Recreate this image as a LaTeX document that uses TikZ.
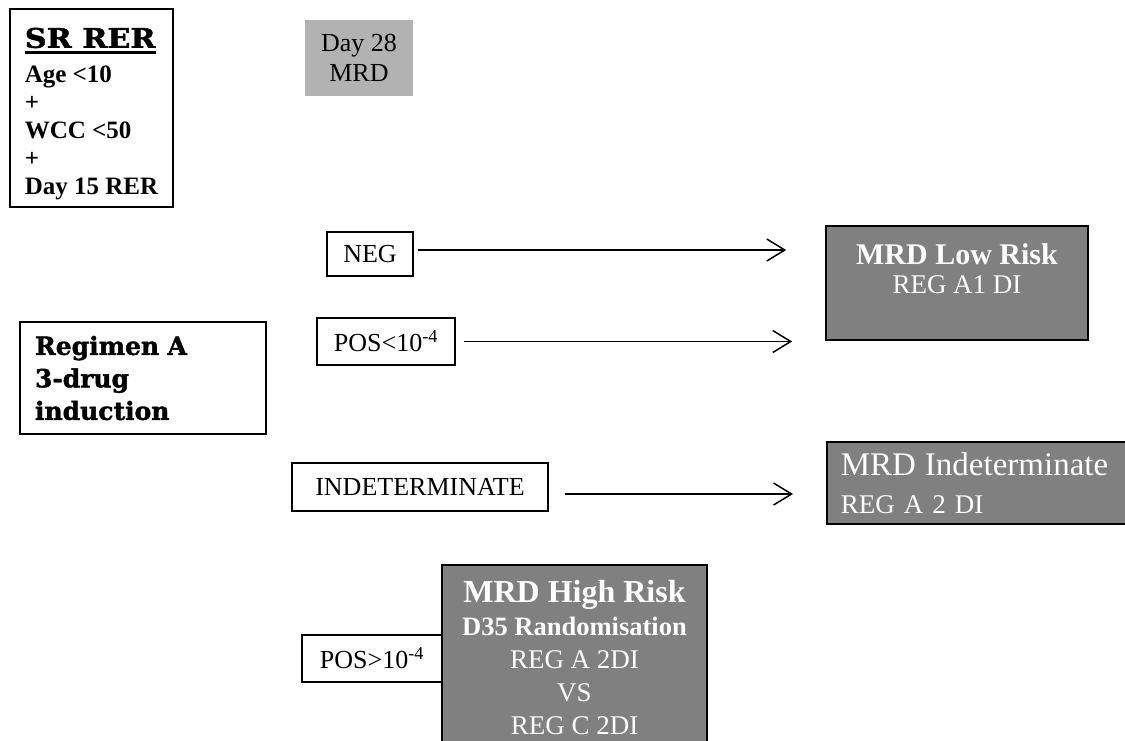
\documentclass[tikz,border=0pt]{standalone}
\usepackage{fontspec}
\setmainfont{Liberation Serif}
\newfontfamily\slabfont{DejaVu Serif}[FakeBold=1.6]
\newfontfamily\headfont{DejaVu Serif}[FakeStretch=1.12,FakeBold=1.4]
\usepackage{tikz}
\usetikzlibrary{arrows.meta,positioning,calc}
\newcommand{\thickul}[1]{\vtop{\hbox{#1}\kern2.5pt\hrule height 3pt}}

\begin{document}
\begin{tikzpicture}[x=1pt, y=-1pt,
  framebox/.style={draw, line width=1.4pt, inner sep=0pt, align=center, font=\fontsize{26}{30}\selectfont},
  resultbox/.style={draw, line width=1.6pt, fill=black!50, text=white, inner sep=0pt, align=center},
  arrow/.style={-{Straight Barb[length=18pt,width=22pt]}, line width=1.5pt}
]
\useasboundingbox (0,0) rectangle (1125,740);

\node[framebox, minimum width=163, minimum height=198, align=left,
  font=\bfseries\fontsize{25}{28}\selectfont] (srrer) at (91.5,108)
  {\rule{0pt}{32pt}{\headfont\fontsize{27}{28}\selectfont\thickul{SR RER}}\\[7pt]Age <10\\+\\WCC <50\\+\\Day 15 RER};
\node[fill=black!30, minimum width=108, minimum height=76, inner sep=0pt, align=center,
  font=\fontsize{26}{30}\selectfont] (day28) at (359,58) {Day 28\\MRD};

\node[framebox, minimum width=246, minimum height=112, text width=216, inner xsep=15, align=left,
  font=\slabfont\bfseries\fontsize{25}{32.5}\selectfont] (regimen) at (143,378) {Regimen A\\3-drug\\induction};

\node[framebox, minimum width=86, minimum height=44] (neg) at (370,254) {NEG};
\node[framebox, minimum width=138, minimum height=47] (poslow) at (386,341.5) {POS<10\textsuperscript{-4}};
\node[framebox, minimum width=256, minimum height=48] (indet) at (420,487) {INDETERMINATE};
\node[framebox, minimum width=140, minimum height=47] (poshigh) at (372,658.5) {POS>10\textsuperscript{-4}};

\node[resultbox, minimum width=262, minimum height=114, font=\fontsize{27}{29}\selectfont] (lowrisk) at (957,283)
  {{\bfseries\fontsize{30}{29}\selectfont MRD Low Risk}\\REG A1 DI\\\mbox{}};
\node[resultbox, anchor=west, minimum height=82, text width=292, inner xsep=14, align=left,
  font=\fontsize{27}{38}\selectfont] (indetrisk) at (826,483)
  {{\fontsize{33}{38}\selectfont MRD Indeterminate}\\REG A 2 DI};
\node[resultbox, minimum width=265, minimum height=185, font=\fontsize{27}{33}\selectfont] (highrisk) at (574.5,657.5)
  {{\bfseries\fontsize{32}{33}\selectfont MRD High Risk}\\{\bfseries\fontsize{26.5}{33}\selectfont D35 Randomisation}\\REG A 2DI\\VS\\REG C 2DI};

\foreach \a/\b/\dy/\s/\e in {neg/lowrisk/4/4/39, poslow/lowrisk/0/8/33, indet/indetrisk/-7/16/33}
  {\draw[arrow, shorten <=\s pt, shorten >=\e pt] ([yshift=\dy pt]\a.east) -- ([yshift=\dy pt]\a.east -| \b.west);}
\end{tikzpicture}
\end{document}
